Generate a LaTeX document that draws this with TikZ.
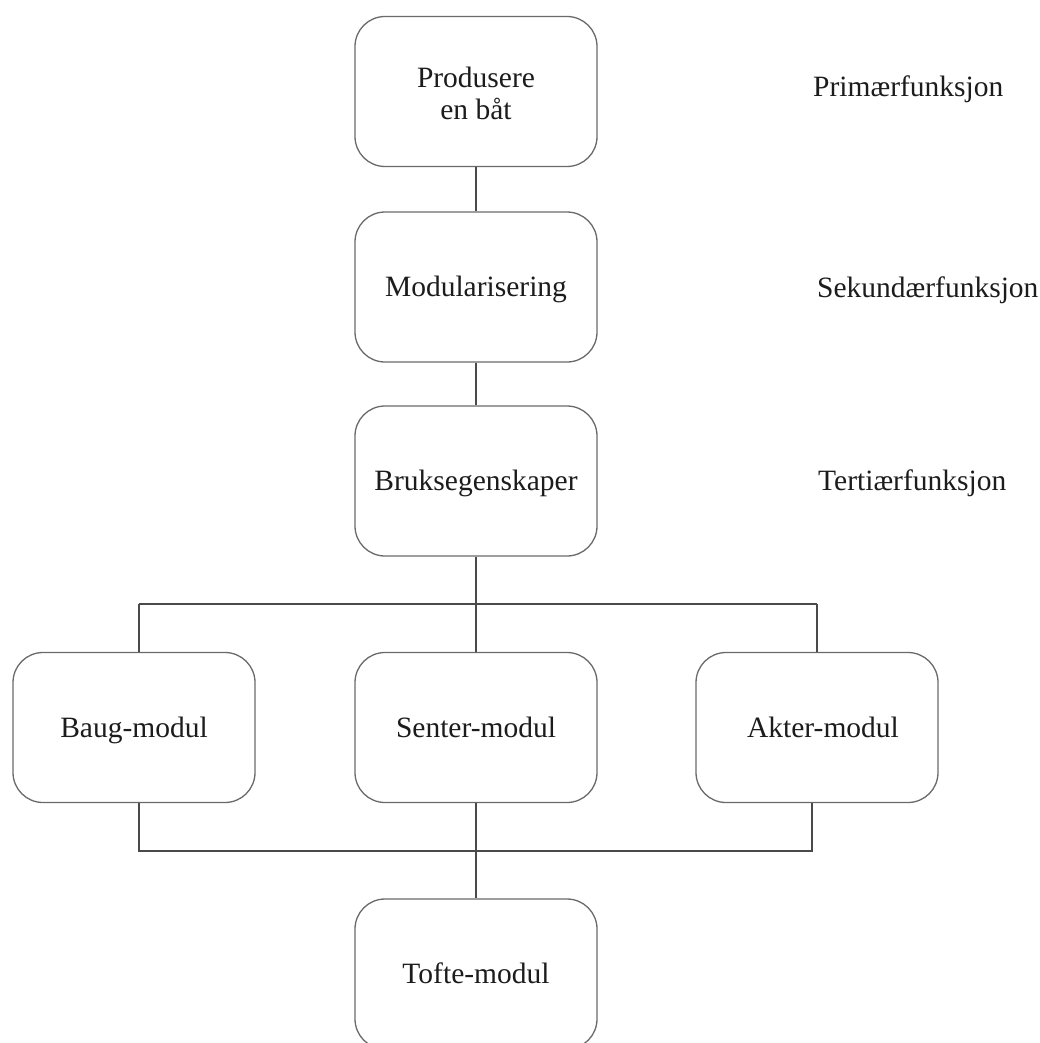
\documentclass[tikz,border=0pt]{standalone}
\usepackage{fontspec}
\setmainfont{Liberation Serif}
\definecolor{boxgray}{HTML}{6A6A6A}
\definecolor{wiregray}{HTML}{4A4A4A}
\definecolor{inkblack}{HTML}{1C1C1C}
\begin{document}
\begin{tikzpicture}[x=1pt,y=-1pt,
  roundbox/.style={draw=boxgray, line width=1.3pt, rounded corners=30pt,
    minimum width=242pt, minimum height=150pt, fill=white,
    text=inkblack, font=\fontsize{29.5}{32}\selectfont},
  twoline/.style={roundbox, align=center},
  oneline/.style={roundbox, text height=25.4pt, text depth=6.4pt},
  wire/.style={draw=wiregray, line width=1.5pt},
  levellabel/.style={anchor=base west, text=inkblack, inner sep=0pt,
    font=\fontsize{29.5}{32}\selectfont}]
\useasboundingbox (0,0) rectangle (1040,1043);
\clip (0,0) rectangle (1040,1043);

% function hierarchy
\node[twoline] (prim) at (476,91.5) {\rule{0pt}{25pt}Produsere\\en båt};
\node[oneline] (sek)  at (476,287)  {Modularisering};
\node[oneline] (ter)  at (476,481)  {Bruksegenskaper};

% modules
\node[oneline] (baug)   at (134,727.5) {Baug-modul\hspace{7pt}};
\node[oneline] (senter) at (476,727.5) {Senter-modul};
\node[oneline] (akter)  at (817,727.5) {\hspace{12pt}Akter-modul};
\node[oneline] (tofte)  at (476,974)   {Tofte-modul};

% level names
\node[levellabel] (l1) at (813,97)  {Primærfunksjon};
\node[levellabel] (l2) at (817,297) {Sekundærfunksjon};
\node[levellabel] (l3) at (818,490) {Tertiærfunksjon};

% bus junctions
\coordinate (topmid) at (476,604);
\coordinate (topL) at (139,604);
\coordinate (topR) at (817,604);
\coordinate (botmid) at (476,851);
\coordinate (botL) at (139,851);
\coordinate (botR) at (812,851);

% connectors
\draw[wire] (prim.south) -- (sek.north);
\draw[wire] (sek.south) -- (ter.north);
\draw[wire] (ter.south) -- (topmid);
\draw[wire] (topL) -- (topR);
\draw[wire] (topL) -- (topL |- baug.north);
\draw[wire] (topmid) -- (senter.north);
\draw[wire] (topR) -- (topR |- akter.north);
\draw[wire] (botL |- baug.south) -- (botL) -- (botR) -- (botR |- akter.south);
\draw[wire] (senter.south) -- (tofte.north);
\end{tikzpicture}
\end{document}
